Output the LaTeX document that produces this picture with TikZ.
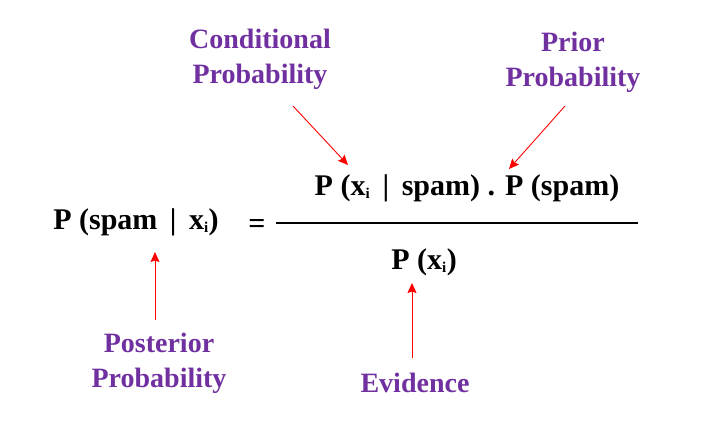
\documentclass[tikz,border=0pt]{standalone}
\usepackage{fontspec}
\setmainfont{Liberation Serif}
\usetikzlibrary{arrows.meta}
\definecolor{labelpurple}{HTML}{7030A0}
\tikzset{
  term/.style={font=\fontsize{30}{34}\selectfont\bfseries, text=black, inner sep=0pt},
  tag/.style={font=\fontsize{28}{35}\selectfont\bfseries, text=labelpurple, align=center, inner sep=0pt},
  pointer/.style={-{Stealth[length=10pt,width=9pt,inset=1.5pt]}, red, line width=0.9pt}
}
\newcommand{\xsub}{x\textsubscript{\fontsize{15}{15}\selectfont i}}
\begin{document}
\begin{tikzpicture}[x=1pt, y=-1pt]
		\useasboundingbox (0,0) rectangle (715,436);
		% formula
		\node[term] (post) at (136,222) {P (spam \,|\, \xsub)};
		\node[term] (eq) at (257,226) {=};
		\coordinate (barL) at (276,223);
		\coordinate (barR) at (638,223);
		\draw[line width=1.4pt] (barL) -- (barR);
		\node[term] (num) at (467,188) {P (\xsub\ \,|\, spam) . P (spam)};
		\node[term] (den) at (424,262) {P (\xsub)};
		
		% labels
		\node[tag] (cond) at (260,59) {Conditional\\Probability};
		\node[tag] (prior) at (573,62) {Prior\\Probability};
		\node[tag] (poster) at (159,363) {Posterior\\Probability};
		\node[tag] (evid) at (415,383) {Evidence};
		
		% arrows
		\coordinate (condtail) at (293,106);
		\coordinate (condhead) at (348,165);
		\coordinate (priortail) at (565,106);
		\coordinate (priorhead) at (509,169);
		\coordinate (postertail) at (155,320);
		\coordinate (posterhead) at (155,252);
		\coordinate (evidtail) at (412,358);
		\coordinate (evidhead) at (412,283);
		\draw[pointer] (condtail) -- (condhead);
		\draw[pointer] (priortail) -- (priorhead);
		\draw[pointer] (postertail) -- (posterhead);
		\draw[pointer] (evidtail) -- (evidhead);
\end{tikzpicture}
\end{document}
